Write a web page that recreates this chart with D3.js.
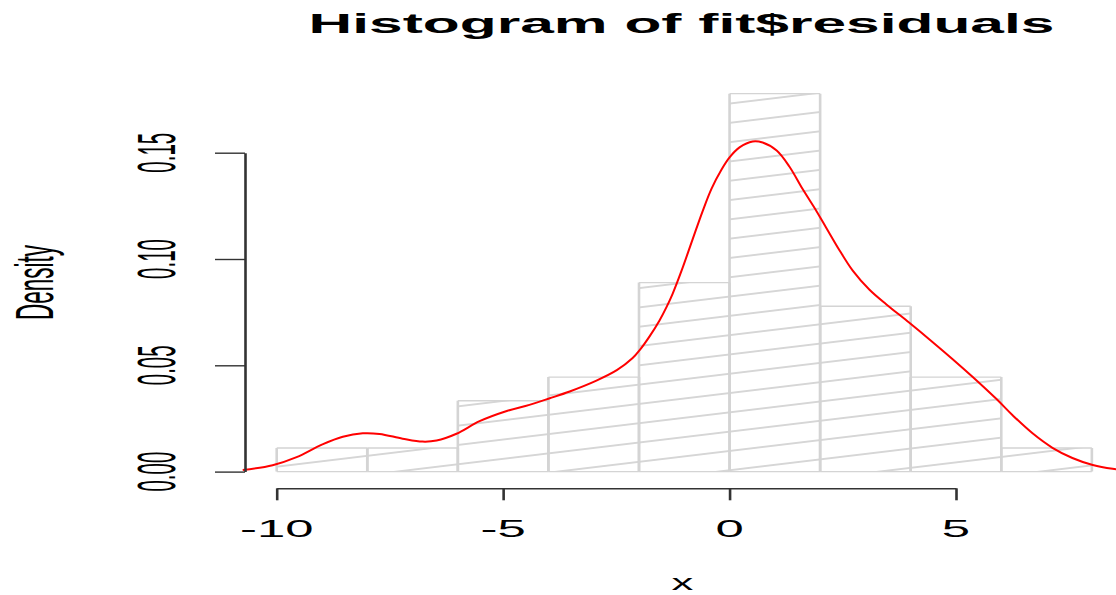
<!DOCTYPE html>
<html>
<head>
<meta charset="utf-8">
<script src="https://cdn.jsdelivr.net/npm/d3@7"></script>
<style>
  html, body { margin: 0; padding: 0; background: #fff; }
  svg { display: block; }
  text { font-family: "Liberation Sans", Arial, Helvetica, sans-serif; fill: #000; }
</style>
</head>
<body>
<svg id="chart" width="1116" height="595"></svg>
<script>
// Histogram of the model residuals: 45 observations in bins of width 2
const binStarts = [-10, -8, -6, -4, -2, 0, 2, 4, 6];
const binWidth = 2;
const counts = [1, 1, 3, 4, 8, 16, 7, 4, 1];

// Kernel density estimate of the same residuals
const densityX = [-10.75, -10.09, -9.56, -8.99, -8.54, -8.10, -7.73, -7.22, -6.78, -6.47,
  -6.03, -5.52, -4.92, -4.42, -3.97, -3.53, -2.94, -2.49, -2.14, -1.99, -1.77, -1.55,
  -1.39, -1.26, -1.06, -0.82, -0.60, -0.40, -0.18, 0.00, 0.22, 0.51, 0.73,
  1.04, 1.32, 1.61, 1.92, 2.14, 2.43, 2.72, 3.09, 3.47, 3.97, 4.48, 4.92, 5.37, 5.90,
  6.25, 6.69, 7.13, 7.57, 8.02, 8.46, 8.80];
const densityY = [0.0007, 0.0030, 0.0068, 0.0128, 0.0164, 0.0180, 0.0177, 0.0155, 0.0141, 0.0146,
  0.0178, 0.0237, 0.0285, 0.0314, 0.0345, 0.0377, 0.0428, 0.0477, 0.0534, 0.0570, 0.0635, 0.0710,
  0.0775, 0.0835, 0.0945, 0.1090, 0.1222, 0.1330, 0.1420, 0.1478, 0.1525, 0.1553, 0.1548,
  0.1510, 0.1435, 0.1330, 0.1225, 0.1145, 0.1040, 0.0945, 0.0855, 0.0785, 0.0700, 0.0610, 0.0530,
  0.0445, 0.0340, 0.0265, 0.0180, 0.0112, 0.0064, 0.0031, 0.0013, 0.0006];

const xTicks = [-10, -5, 0, 5];
const xTickLabels = ["-10", "-5", "0", "5"];
const yTicks = [0, 0.05, 0.10, 0.15];
const yTickLabels = ["0.00", "0.05", "0.10", "0.15"];

const titleText = "Histogram of fit$residuals";
const xLabel = "x";
const yLabel = "Density";

const nObs = d3.sum(counts);
const bins = binStarts.map((x0, i) => ({ x0, x1: x0 + binWidth, density: counts[i] / (nObs * binWidth) }));
const curve = densityX.map((x, i) => ({ x, y: densityY[i] }));

const svg = d3.select("#chart");
const x = d3.scaleLinear().domain([-10, 5]).range([276.7, 956]);
const y = d3.scaleLinear().domain([0, 0.15]).range([471.6, 152.7]);

// Hatch fill: thin gray lines rising gently to the right
const hatchSlope = 0.12;
const hatchAngle = Math.atan(hatchSlope) * 180 / Math.PI;
const hatchGap = 19.3 * Math.cos(Math.atan(hatchSlope));
const defs = svg.append("defs");
const pat = defs.append("pattern")
  .attr("id", "hatch")
  .attr("patternUnits", "userSpaceOnUse")
  .attr("width", 400)
  .attr("height", hatchGap)
  .attr("patternTransform", `translate(${x(-10)},466.7) rotate(${-hatchAngle}) translate(0,${-hatchGap / 2})`);
pat.append("line")
  .attr("x1", -10).attr("x2", 410)
  .attr("y1", hatchGap / 2).attr("y2", hatchGap / 2)
  .attr("stroke", "#c9c9c9").attr("stroke-width", 1.3);

// Bars
const barG = svg.append("g");
barG.selectAll("rect.fill")
  .data(bins).join("rect")
  .attr("class", "fill")
  .attr("x", d => x(d.x0))
  .attr("y", d => y(d.density))
  .attr("width", d => x(d.x1) - x(d.x0))
  .attr("height", d => y(0) - y(d.density))
  .attr("fill", "url(#hatch)");

// Bar outlines: thicker verticals, thinner horizontals
const edgeColor = "#d4d4d4";
barG.selectAll("path.edge")
  .data(bins).join("path")
  .attr("class", "edge")
  .attr("fill", "none")
  .attr("stroke", edgeColor)
  .attr("stroke-width", 2.6)
  .attr("d", d => `M${x(d.x0)},${y(0)}V${y(d.density)}M${x(d.x1)},${y(0)}V${y(d.density)}`);
barG.selectAll("path.hedge")
  .data(bins).join("path")
  .attr("class", "hedge")
  .attr("fill", "none")
  .attr("stroke", edgeColor)
  .attr("stroke-width", 1.4)
  .attr("d", d => `M${x(d.x0)},${y(d.density)}H${x(d.x1)}M${x(d.x0)},${y(0)}H${x(d.x1)}`);

// Density curve
svg.append("path")
  .datum(curve)
  .attr("fill", "none")
  .attr("stroke", "#ff0000")
  .attr("stroke-width", 2)
  .attr("d", d3.line().x(d => x(d.x)).y(d => y(d.y)).curve(d3.curveCatmullRom));

// Axes
const axisColor = "#333";
const gx = svg.append("g")
  .attr("transform", "translate(0,488.3)")
  .call(d3.axisBottom(x).tickValues(xTicks).tickSize(12).tickSizeOuter(0).tickFormat(""));
gx.select(".domain").attr("stroke", axisColor).attr("stroke-width", 1.5);
gx.selectAll(".tick line").attr("stroke", axisColor).attr("stroke-width", 2.6);

const gy = svg.append("g")
  .attr("transform", "translate(245,0)")
  .call(d3.axisLeft(y).tickValues(yTicks).tickSize(30).tickSizeOuter(0).tickFormat(""));
gy.select(".domain").attr("stroke", axisColor).attr("stroke-width", 2.6);
gy.selectAll(".tick line").attr("stroke", axisColor).attr("stroke-width", 1.4);

// Tick labels (wide glyphs on the x axis, rotated on the y axis)
svg.append("g").selectAll("text")
  .data(xTicks).join("text")
  .attr("transform", d => `translate(${x(d)},536.7) scale(2.06,1)`)
  .attr("text-anchor", "middle")
  .attr("font-size", 24.7)
  .text((d, i) => xTickLabels[i]);

svg.append("g").selectAll("text")
  .data(yTicks).join("text")
  .attr("transform", d => `translate(175,${y(d)}) scale(2.65,1) rotate(-90)`)
  .attr("text-anchor", "middle")
  .attr("font-size", 20.5)
  .text((d, i) => yTickLabels[i]);

// Title and axis titles
svg.append("text")
  .attr("transform", "translate(681.5,33.3) scale(2.16,1)")
  .attr("text-anchor", "middle")
  .attr("font-size", 28)
  .attr("font-weight", "bold")
  .text(titleText);

svg.append("text")
  .attr("transform", "translate(682.5,590) scale(1.9,1)")
  .attr("text-anchor", "middle")
  .attr("font-size", 23)
  .text(xLabel);

svg.append("text")
  .attr("transform", "translate(53,282.5) scale(2.38,1) rotate(-90)")
  .attr("text-anchor", "middle")
  .attr("font-size", 22.5)
  .text(yLabel);
</script>
</body>
</html>
